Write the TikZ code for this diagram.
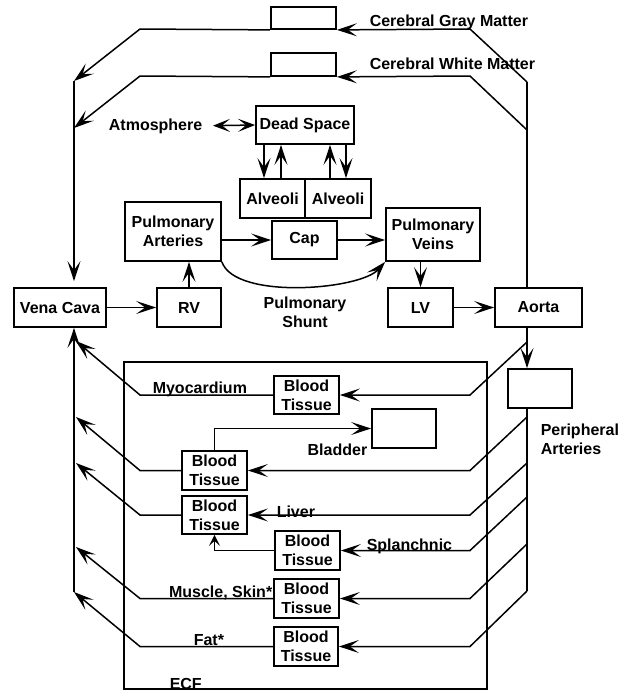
\documentclass[tikz,border=0pt]{standalone}
\usepackage{fontspec}
\setmainfont{Liberation Sans}
\usetikzlibrary{arrows.meta}
\begin{document}
\begin{tikzpicture}[x=1pt,y=-1pt,line width=1.5pt,
  font=\bfseries\fontsize{16}{19}\selectfont,
  box/.style={draw,line width=1.8pt,inner sep=0pt,align=center},
  arr/.style={-{Stealth[length=20pt,width=13pt,inset=9pt]}},
  sarr/.style={-{Stealth[length=11pt,width=11pt,inset=5pt]}},
  darr/.style={{Stealth[length=17pt,width=13pt,inset=8pt]}-{Stealth[length=17pt,width=13pt,inset=8pt]}},
  lbl/.style={inner sep=0pt}]
\useasboundingbox (0,0) rectangle (629,691);
% ECF compartment
\node[box,minimum width=363pt,minimum height=327pt] (ecf) at (305.5,525.5) {};
\node[lbl,anchor=base west] (ecft) at (169,689) {ECF};
% boxes
\node[box,minimum width=65pt,minimum height=22pt] (gm) at (303.5,18) {};
\node[box,minimum width=65pt,minimum height=23pt] (wm) at (303.5,64.5) {};
\node[box,minimum width=98pt,minimum height=38pt] (ds) at (305,125) {Dead Space};
\node[box,minimum width=65pt,minimum height=39pt] (al1) at (272.5,198.5) {Alveoli};
\node[box,minimum width=66pt,minimum height=39pt] (al2) at (338,198.5) {Alveoli};
\node[box,minimum width=96pt,minimum height=59pt] (pa) at (173,231.5) {Pulmonary\\Arteries};
\node[box,minimum width=65pt,minimum height=38pt] (cap) at (304.5,240) {Cap};
\node[box,minimum width=94pt,minimum height=53pt] (pv) at (433,234.5) {Pulmonary\\Veins};
\node[box,minimum width=92pt,minimum height=39pt] (vc) at (60,307.5) {Vena Cava};
\node[box,minimum width=64pt,minimum height=39pt] (rv) at (189,307.5) {RV};
\node[box,minimum width=65pt,minimum height=39pt] (lv) at (420.5,307.5) {LV};
\node[box,minimum width=87pt,minimum height=39pt] (ao) at (538.5,307.5) {Aorta};
\node[box,minimum width=64pt,minimum height=39pt] (per) at (540,388.5) {};
\node[box,minimum width=65pt,minimum height=38pt] (bt1) at (306.5,395) {Blood\\Tissue};
\node[box,minimum width=64pt,minimum height=39pt] (blad) at (404,428.5) {};
\node[box,minimum width=65pt,minimum height=39pt] (bt2) at (214.5,470.5) {Blood\\Tissue};
\node[box,minimum width=65pt,minimum height=38pt] (bt3) at (214.5,515) {Blood\\Tissue};
\node[box,minimum width=65pt,minimum height=39pt] (bt4) at (307.5,550.5) {Blood\\Tissue};
\node[box,minimum width=65pt,minimum height=39pt] (bt5) at (306.5,598.5) {Blood\\Tissue};
\node[box,minimum width=64pt,minimum height=39pt] (bt6) at (306,646.5) {Blood\\Tissue};
% labels
\node[lbl,anchor=base west] (gmt) at (369,26) {Cerebral Gray Matter};
\node[lbl,anchor=base west] (wmt) at (369,69) {Cerebral White Matter};
\node[lbl,anchor=base east] (atm) at (203,130) {Atmosphere};
\node[lbl,align=center] (ps) at (305,312) {Pulmonary\\Shunt};
\node[lbl,anchor=base west] (pert1) at (540,435) {Peripheral};
\node[lbl,anchor=base west] (pert2) at (540,454) {Arteries};
\node[lbl,anchor=base west] (myo) at (152,393) {Myocardium};
\node[lbl,anchor=base east] (bladt) at (368,455) {Bladder};
\node[lbl,anchor=base west] (livt) at (276,517) {Liver};
\node[lbl,anchor=base west] (splt) at (366,550) {Splanchnic};
\node[lbl,anchor=base east] (must) at (273,597) {Muscle, Skin*};
\node[lbl,anchor=base west] (fatt) at (193,645) {Fat*};
% coordinates of the trunk lines
\coordinate (gL) at (74,81);
\coordinate (wL) at (74,128);
\coordinate (gR) at (527,82);
\coordinate (wR) at (527,130);
\coordinate (lB) at (74,592);
\coordinate (rB) at (527,591);
% cerebral circulation
\draw[arr] (gR) -- (470,29) -- (gm.south east);
\draw[arr] (gm.south west) -- (140,29) -- (gL);
\draw[arr] (wR) -- (470,76) -- (wm.south east);
\draw[arr] (wm.south west) -- (140,76) -- (wL);
\draw[arr,shorten >=6pt] (gL) -- (vc.north -| gL);
\draw (gR) -- (ao.north -| gR);
% lungs
\draw[darr,shorten <=10pt] (atm.east) -- (ds.west);
\draw[arr] ([xshift=-8.5pt]al1.north |- ds.south) -- ([xshift=-8.5pt]al1.north);
\draw[arr] ([xshift=8.5pt]al1.north) -- ([xshift=8.5pt]al1.north |- ds.south);
\draw[arr] ([xshift=-8pt]al2.north) -- ([xshift=-8pt]al2.north |- ds.south);
\draw[arr] ([xshift=8pt]al2.north |- ds.south) -- ([xshift=8pt]al2.north);
\draw[arr] (pa.east |- cap.west) -- (cap.west);
\draw[arr] (cap.east) -- (cap.east -| pv.west);
\draw[arr] (pa.south east) .. controls (235,300) and (360,290) .. (pv.south west);
% heart
\draw[arr] (vc) -- (rv);
\draw[arr] (rv.north) -- (rv.north |- pa.south);
\draw[arr] (pv.south -| lv.north) -- (lv.north);
\draw[arr] (lv) -- (ao);
\draw[arr] (ao.south -| gR) -- (per.north -| gR);
\draw (per.south -| rB) -- (rB);
\draw[arr] (lB) -- (vc.south -| lB);
% myocardium
\draw[arr] (527,342) -- (470,395) -- (bt1.east);
\draw[arr] (bt1.west) -- (140,395) -- (76,341);
% kidney
\draw[arr] (527,417) -- (470,470.5) -- (bt2.east);
\draw[arr] (bt2.west) -- (140,470.5) -- (76,417);
\draw[arr] (bt2.north) |- (blad.west);
% liver
\draw[arr] (527,463) -- (470,515) -- (bt3.east);
\draw[arr] (bt3.west) -- (140,515) -- (76,463);
% splanchnic
\draw[arr] (527,497) -- (470,550.5) -- (bt4.east);
\draw[sarr] (bt4.west) -| (bt3.south);
% muscle, skin
\draw[arr] (527,544) -- (470,598.5) -- (bt5.east);
\draw[arr] (bt5.west) -- (140,598.5) -- (76,547);
% fat
\draw[arr] (rB) -- (470,646.5) -- (bt6.east);
\draw[arr] (bt6.west) -- (140,646.5) -- (lB);
\end{tikzpicture}
\end{document}
